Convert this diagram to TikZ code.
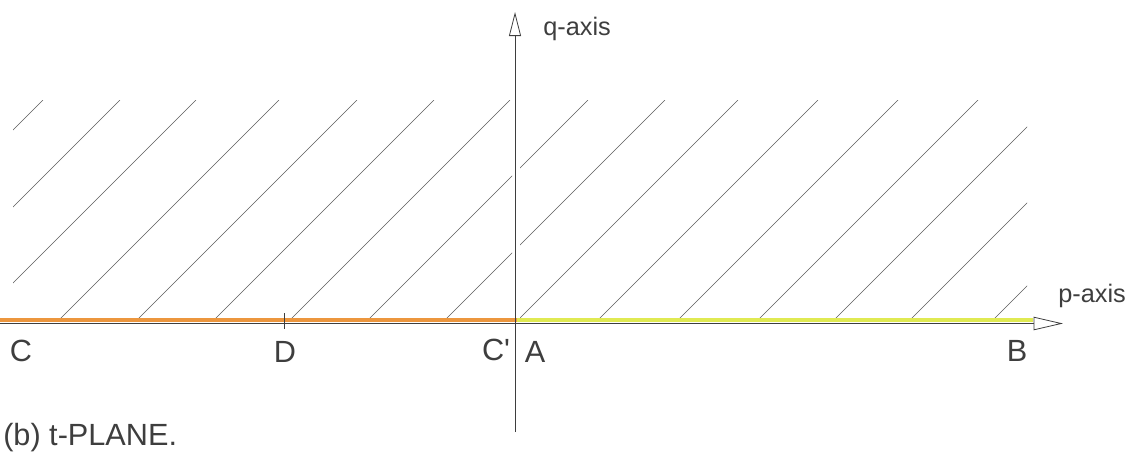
\documentclass[tikz,border=0pt]{standalone}
\usepackage{fontspec}
\setmainfont{Liberation Sans}
\usetikzlibrary{
  arrows.meta,
  positioning
}
\definecolor{penblack}{RGB}{62,62,62}
\definecolor{bandorange}{RGB}{236,150,62}
\definecolor{bandyellow}{RGB}{224,234,82}
\tikzset{
  hatchline/.style={draw=penblack!85,line width=0.5pt},
  axisline/.style={draw=penblack,line width=0.6pt},
  parrow/.style={axisline,-{Triangle[open,length=22pt,width=10pt]}},
  qarrow/.style={axisline,-{Triangle[open,length=18pt,width=9pt]}},
  bandline/.style={line width=3pt},
  ptlabel/.style={font=\fontsize{23}{26}\selectfont,text=penblack,inner sep=0pt},
  axislabel/.style={font=\fontsize{19}{22}\selectfont,text=penblack,inner sep=0pt,anchor=base west}
}
\begin{document}
\begin{tikzpicture}[x=0.75pt,y=-0.75pt]
  \useasboundingbox (0,0) rectangle (1141,451);
  % axis end points
  \coordinate (origin) at (517,321);
  \coordinate (pstart) at (0,323.5);
  \coordinate (pend) at (1063,323.5);
  \coordinate (ybandend) at (1033,320);
  \coordinate (obandstart) at (0,320);
  \coordinate (oband) at (517,320);
  \coordinate (qbot) at (515,432);
  \coordinate (qend) at (515,12);
  \coordinate (Dtick) at (284,321);
  % hatching of the upper half plane
  \begin{scope}
    \clip (13,100) rectangle (512,320);
    \foreach \c in {-177,-100,-24,59,137,214,290,368,445}
      \draw[hatchline] (\c,320) -- ++(220,-220);
  \end{scope}
  \begin{scope}
    \clip (520,100) rectangle (1027,320);
    \foreach \c in {368,445,518,598,678,758,834,910,993}
      \draw[hatchline] (\c,320) -- ++(220,-220);
  \end{scope}
  % real axis with coloured segments
  \draw[bandline,draw=bandorange] (obandstart) -- (oband);
  \draw[bandline,draw=bandyellow] (oband) -- (ybandend);
  \draw[parrow] (pstart) -- (pend);
  \draw[qarrow] (qbot) -- (qend);
  \draw[axisline] (Dtick) ++(0,-8) -- ++(0,16);
  % labels
  \node[ptlabel] (labC) at (21,351) {C};
  \node[ptlabel] (labD) at (285,352) {D};
  \node[ptlabel] (labCp) at (496,350) {C\textquotesingle};
  \node[ptlabel] (labA) at (535,352) {A};
  \node[ptlabel] (labB) at (1017,351) {B};
  \node[axislabel] (qlab) at (543,35) {q-axis};
  \node[axislabel] (plab) at (1058,302) {p-axis};
  \node[ptlabel,anchor=base west] (caption) at (3,445) {(b) t-PLANE.};
\end{tikzpicture}
\end{document}
